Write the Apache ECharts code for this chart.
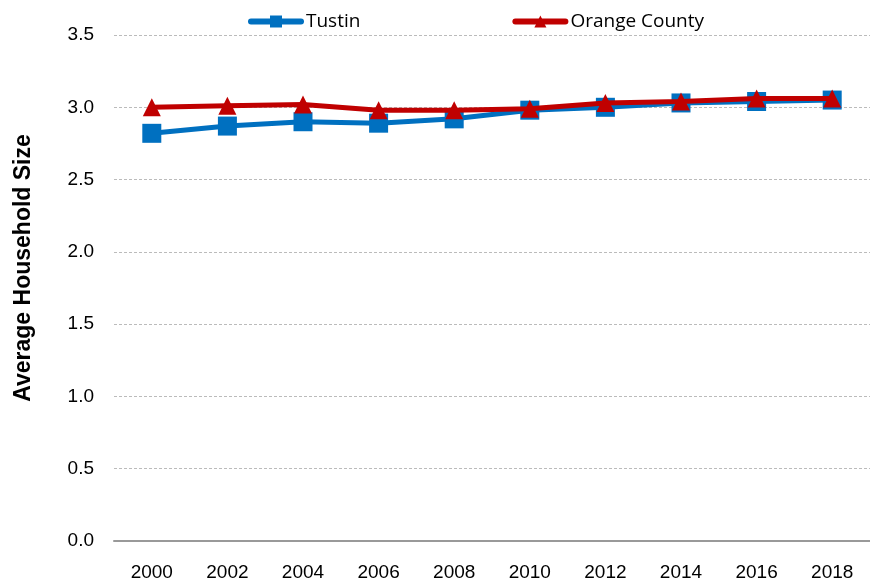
<!DOCTYPE html>
<html>
<head>
    <meta charset="utf-8">
    <script src="https://cdn.jsdelivr.net/npm/echarts@6/dist/echarts.min.js"></script>
    <style>
        html, body { margin: 0; padding: 0; background: #fff; }
    </style>
</head>
<body>
    <div id="main" style="width: 870px;height:584px;"></div>
    <script type="text/javascript">
        // data
        var years = ['2000', '2002', '2004', '2006', '2008', '2010', '2012', '2014', '2016', '2018'];
        var tustin = [2.82, 2.87, 2.90, 2.89, 2.92, 2.98, 3.00, 3.03, 3.04, 3.05];
        var orangeCounty = [3.00, 3.01, 3.02, 2.98, 2.98, 2.99, 3.03, 3.04, 3.06, 3.06];

        var narrow = "'Liberation Sans Narrow', 'Arial Narrow', 'Liberation Sans', sans-serif";

        var myChart = echarts.init(document.getElementById('main'));

        var option = {
            animation: false,
            legend: {
                top: 7,
                left: 243,
                itemGap: 152,
                itemWidth: 50,
                itemHeight: 15,
                lineStyle: { width: 6, cap: 'round' },
                textStyle: { fontSize: 19, color: '#000', fontFamily: "'Open Sans', 'Noto Sans', sans-serif" },
                data: ['Tustin', 'Orange County']
            },
            grid: {
                left: 114,
                top: 35,
                right: 0,
                bottom: 43
            },
            graphic: [{
                type: 'text',
                x: 24,
                y: 268,
                rotation: Math.PI / 2,
                style: {
                    text: 'Average Household Size',
                    font: 'bold 23px ' + narrow,
                    fill: '#000',
                    align: 'center',
                    verticalAlign: 'middle'
                }
            }],
            xAxis: {
                type: 'category',
                data: years,
                axisLine: { lineStyle: { color: '#999', width: 2 } },
                axisTick: { show: false },
                axisLabel: { fontSize: 19, color: '#000', margin: 22, fontFamily: narrow }
            },
            yAxis: {
                type: 'value',
                min: 0,
                max: 3.5,
                interval: 0.5,
                axisLine: { show: false },
                axisTick: { show: false },
                axisLabel: {
                    fontSize: 19, color: '#000', margin: 20, fontFamily: narrow,
                    formatter: function (v) { return v.toFixed(1); }
                },
                splitLine: { lineStyle: { color: '#bbb', type: [3, 2], width: 1 } }
            },
            series: [
                {
                    name: 'Tustin',
                    type: 'line',
                    data: tustin,
                    symbol: 'rect',
                    symbolSize: 19,
                    lineStyle: { color: '#0070c0', width: 5 },
                    itemStyle: { color: '#0070c0' },
                    z: 2
                },
                {
                    name: 'Orange County',
                    type: 'line',
                    data: orangeCounty,
                    symbol: 'triangle',
                    symbolSize: 18,
                    lineStyle: { color: '#c00000', width: 5 },
                    itemStyle: { color: '#c00000' },
                    z: 3
                }
            ]
        };

        myChart.setOption(option);
    </script>
</body>
</html>
